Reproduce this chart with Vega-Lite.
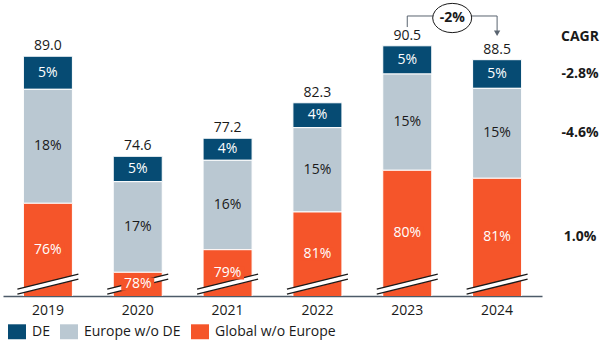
{
  "$schema": "https://vega.github.io/schema/vega-lite/v6.json",
  "width": 609,
  "height": 296,
  "autosize": "none",
  "padding": {"top": 0, "left": 0, "right": 0, "bottom": 56},
  "background": "white",
  "config": {"view": {"stroke": null}, "font": "Open Sans"},
  "datasets": {
    "segs": [
      {"year": "2019", "segment": "DE", "value": 4.76, "label": "5%"},
      {"year": "2019", "segment": "Europe w/o DE", "value": 16.4, "label": "18%"},
      {"year": "2019", "segment": "Global w/o Europe", "value": 67.84, "label": "76%"},
      {"year": "2020", "segment": "DE", "value": 3.65, "label": "5%"},
      {"year": "2020", "segment": "Europe w/o DE", "value": 13.04, "label": "17%"},
      {"year": "2020", "segment": "Global w/o Europe", "value": 57.91, "label": "78%"},
      {"year": "2021", "segment": "DE", "value": 3.17, "label": "4%"},
      {"year": "2021", "segment": "Europe w/o DE", "value": 12.87, "label": "16%"},
      {"year": "2021", "segment": "Global w/o Europe", "value": 61.16, "label": "79%"},
      {"year": "2022", "segment": "DE", "value": 3.58, "label": "4%"},
      {"year": "2022", "segment": "Europe w/o DE", "value": 12.13, "label": "15%"},
      {"year": "2022", "segment": "Global w/o Europe", "value": 66.59, "label": "81%"},
      {"year": "2023", "segment": "DE", "value": 4.06, "label": "5%"},
      {"year": "2023", "segment": "Europe w/o DE", "value": 13.85, "label": "15%"},
      {"year": "2023", "segment": "Global w/o Europe", "value": 72.59, "label": "80%"},
      {"year": "2024", "segment": "DE", "value": 4.12, "label": "5%"},
      {"year": "2024", "segment": "Europe w/o DE", "value": 12.94, "label": "15%"},
      {"year": "2024", "segment": "Global w/o Europe", "value": 71.44, "label": "81%"}
    ],
    "totals": [
      {"year": "2019", "total": 89.0},
      {"year": "2020", "total": 74.6},
      {"year": "2021", "total": 77.2},
      {"year": "2022", "total": 82.3},
      {"year": "2023", "total": 90.5},
      {"year": "2024", "total": 88.5}
    ],
    "cagr": [
      {"segment": "DE", "cagr": "-2.8%"},
      {"segment": "Europe w/o DE", "cagr": "-4.6%"},
      {"segment": "Global w/o Europe", "cagr": "1.0%"}
    ],
    "one": [{}]
  },
  "layer": [
    {
      "layer": [
        {
          "data": {"name": "segs"},
          "transform": [
            {"stack": "value", "groupby": ["year"], "sort": [{"field": "segment", "order": "descending"}], "as": ["y0", "y1"]}
          ],
          "mark": {"type": "bar", "clip": true, "stroke": "white", "strokeWidth": 1},
          "encoding": {
            "x": {
              "field": "year", "type": "nominal",
              "scale": {"range": [3, 542], "paddingInner": 0.4545, "paddingOuter": 0.227},
              "axis": {"title": null, "ticks": false, "labelPadding": 7, "labelFontSize": 14, "labelFont": "Open Sans", "labelColor": "#1a1a1a", "domainColor": "#4d5b69", "domainWidth": 1.5, "labelAngle": 0, "grid": false}
            },
            "y": {"field": "y0", "type": "quantitative", "scale": {"domain": [54.5, 97.09], "nice": false, "zero": false}, "axis": null},
            "y2": {"field": "y1"},
            "color": {
              "field": "segment", "type": "nominal",
              "scale": {"domain": ["DE", "Europe w/o DE", "Global w/o Europe"], "range": ["#064b73", "#bac8d2", "#f5552a"]},
              "legend": {"title": null, "orient": "none", "legendX": 8, "legendY": 322.5, "direction": "horizontal", "symbolType": "M-1,-0.83L1,-0.83L1,0.83L-1,0.83Z", "symbolSize": 324, "symbolStrokeWidth": 0, "labelFontSize": 14, "labelFont": "Open Sans", "labelColor": "#1a1a1a", "columnPadding": 10, "labelOffset": 6, "symbolOpacity": 1}
            }
          }
        },
        {
          "data": {"name": "totals"},
          "mark": {"type": "point", "shape": "M-1,0.164L1,-0.328L1,-0.164L-1,0.328Z", "filled": true, "fill": "white", "strokeWidth": 0, "size": 3721, "opacity": 1},
          "encoding": {
            "x": {"field": "year", "type": "nominal"},
            "y": {"datum": 56.2, "type": "quantitative"}
          }
        },
        {
          "data": {"name": "totals"},
          "mark": {"type": "point", "shape": "M-1,0.164L1,-0.328M-1,0.328L1,-0.164", "filled": false, "color": "#1a1a1a", "strokeWidth": 1.3, "size": 3721, "opacity": 1},
          "encoding": {
            "x": {"field": "year", "type": "nominal"},
            "y": {"datum": 56.2, "type": "quantitative"}
          }
        },
        {
          "data": {"name": "segs"},
          "transform": [
            {"stack": "value", "groupby": ["year"], "sort": [{"field": "segment", "order": "descending"}], "as": ["y0", "y1"]},
            {"filter": "datum.segment === 'Global w/o Europe'"},
            {"calculate": "(max(datum.y0, 54.5) + datum.y1) / 2", "as": "mid"}
          ],
          "mark": {"type": "point", "shape": "M-1,-0.4L1,-0.4L1,0.4L-1,0.4Z", "filled": true, "fill": "#f5552a", "strokeWidth": 0, "size": 1089, "opacity": 1},
          "encoding": {
            "x": {"field": "year", "type": "nominal"},
            "y": {"field": "mid", "type": "quantitative"}
          }
        },
        {
          "data": {"name": "segs"},
          "transform": [
            {"stack": "value", "groupby": ["year"], "sort": [{"field": "segment", "order": "descending"}], "as": ["y0", "y1"]},
            {"calculate": "(max(datum.y0, 54.5) + datum.y1) / 2", "as": "mid"}
          ],
          "mark": {"type": "text", "fontSize": 14, "font": "Open Sans", "baseline": "middle", "align": "center"},
          "encoding": {
            "x": {"field": "year", "type": "nominal"},
            "y": {"field": "mid", "type": "quantitative"},
            "text": {"field": "label"},
            "color": {"condition": {"test": "datum.segment === 'Europe w/o DE'", "value": "#1a1a1a"}, "value": "white"}
          }
        },
        {
          "data": {"name": "totals"},
          "mark": {"type": "text", "fontSize": 14, "font": "Open Sans", "baseline": "alphabetic", "align": "center", "dy": -6, "color": "#1a1a1a"},
          "encoding": {
            "x": {"field": "year", "type": "nominal"},
            "y": {"field": "total", "type": "quantitative"},
            "text": {"field": "total", "type": "quantitative", "format": ".1f"}
          }
        },
        {
          "data": {"name": "one"},
          "mark": {"type": "rule", "color": "#5a6470", "strokeWidth": 1},
          "encoding": {
            "x": {"datum": "2023", "type": "nominal"},
            "y": {"datum": 93.2, "type": "quantitative"},
            "y2": {"datum": 94.79}
          }
        },
        {
          "data": {"name": "one"},
          "mark": {"type": "rule", "color": "#5a6470", "strokeWidth": 1},
          "encoding": {
            "x": {"datum": "2023", "type": "nominal"},
            "x2": {"datum": "2024"},
            "y": {"datum": 94.79, "type": "quantitative"}
          }
        },
        {
          "data": {"name": "one"},
          "mark": {"type": "rule", "color": "#5a6470", "strokeWidth": 1},
          "encoding": {
            "x": {"datum": "2024", "type": "nominal"},
            "y": {"datum": 92.5, "type": "quantitative"},
            "y2": {"datum": 94.79}
          }
        },
        {
          "data": {"name": "one"},
          "mark": {"type": "point", "shape": "triangle-down", "filled": true, "color": "#5a6470", "size": 40, "opacity": 1},
          "encoding": {
            "x": {"datum": "2024", "type": "nominal"},
            "y": {"datum": 92.3, "type": "quantitative"}
          }
        },
        {
          "data": {"name": "one"},
          "mark": {"type": "point", "shape": "M1,0L.966,.194L.866,.375L.707,.53L.5,.65L.259,.725L0,.75L-.259,.725L-.5,.65L-.707,.53L-.866,.375L-.966,.194L-1,0L-.966,-.194L-.866,-.375L-.707,-.53L-.5,-.65L-.259,-.725L0,-.75L.259,-.725L.5,-.65L.707,-.53L.866,-.375L.966,-.194Z", "filled": true, "fill": "white", "stroke": "#1a1a1a", "strokeWidth": 1, "size": 1521, "opacity": 1},
          "encoding": {
            "x": {"datum": "2023", "type": "nominal", "bandPosition": 1.417},
            "y": {"datum": 94.5, "type": "quantitative"}
          }
        },
        {
          "data": {"name": "one"},
          "mark": {"type": "text", "text": "-2%", "fontSize": 14, "fontWeight": "bold", "font": "Open Sans", "baseline": "middle", "align": "center", "color": "#1a1a1a"},
          "encoding": {
            "x": {"datum": "2023", "type": "nominal", "bandPosition": 1.417},
            "y": {"datum": 94.5, "type": "quantitative"}
          }
        }
      ]
    },
    {
      "layer": [
        {
          "data": {"name": "segs"},
          "transform": [
            {"stack": "value", "groupby": ["year"], "sort": [{"field": "segment", "order": "descending"}], "as": ["y0", "y1"]},
            {"filter": "datum.year === '2024'"},
            {"calculate": "(max(datum.y0, 54.5) + datum.y1) / 2", "as": "mid"},
            {"lookup": "segment", "from": {"data": {"name": "cagr"}, "key": "segment", "fields": ["cagr"]}}
          ],
          "mark": {"type": "text", "fontSize": 14, "fontWeight": "bold", "font": "Open Sans", "baseline": "middle", "align": "center", "color": "#1a1a1a"},
          "encoding": {
            "x": {"datum": "CAGR", "type": "nominal", "scale": {"domain": ["CAGR"], "range": [560, 600]}, "axis": null},
            "y": {"field": "mid", "type": "quantitative"},
            "text": {"field": "cagr"}
          }
        },
        {
          "data": {"name": "one"},
          "mark": {"type": "text", "text": "CAGR", "fontSize": 14, "fontWeight": "bold", "font": "Open Sans", "baseline": "middle", "align": "center", "color": "#1a1a1a"},
          "encoding": {
            "x": {"datum": "CAGR", "type": "nominal"},
            "y": {"datum": 91.77, "type": "quantitative"}
          }
        }
      ]
    }
  ],
  "resolve": {"scale": {"x": "independent"}}
}
